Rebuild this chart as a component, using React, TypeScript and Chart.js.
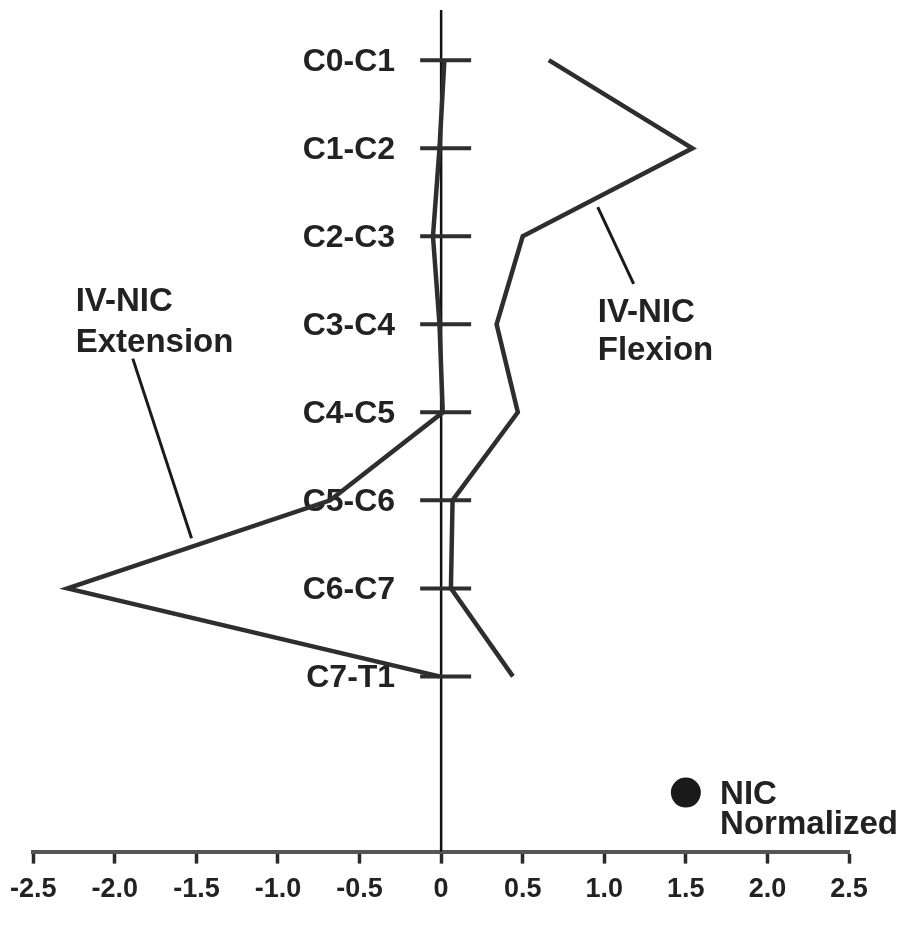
import React, { useEffect, useRef } from 'react';
import { Chart, registerables } from 'chart.js';

Chart.register(...registerables);

// ---- data ----
const categories = ['C0-C1', 'C1-C2', 'C2-C3', 'C3-C4', 'C4-C5', 'C5-C6', 'C6-C7', 'C7-T1'];
const flexionValues = [0.66, 1.54, 0.5, 0.34, 0.47, 0.07, 0.06, 0.44];
const extensionValues = [0.02, -0.01, -0.05, -0.01, 0.01, -0.68, -2.29, -0.01];
const xTickValues = [-2.5, -2.0, -1.5, -1.0, -0.5, 0, 0.5, 1.0, 1.5, 2.0, 2.5];
const xTickLabels = ['-2.5', '-2.0', '-1.5', '-1.0', '-0.5', '0', '0.5', '1.0', '1.5', '2.0', '2.5'];
const flexionLabel = ['IV-NIC', 'Flexion'];
const extensionLabel = ['IV-NIC', 'Extension'];
const legendLabel = ['NIC', 'Normalized'];

const FONT = '"Liberation Sans", Arial, Helvetica, sans-serif';
const INK = '#222222';
const LINE = '#2e2e2e';

const decorPlugin = {
  id: 'decor',
  beforeDatasetsDraw(chart: any) {
    const { ctx, chartArea, scales } = chart;
    const x = scales.x;
    const y = scales.y;
    const x0 = x.getPixelForValue(0);
    ctx.save();
    // vertical axis at 0
    ctx.strokeStyle = '#111';
    ctx.lineWidth = 2.5;
    ctx.beginPath();
    ctx.moveTo(x0, chartArea.top);
    ctx.lineTo(x0, chartArea.bottom);
    ctx.stroke();
    // category ticks and labels
    ctx.lineWidth = 4;
    ctx.strokeStyle = LINE;
    ctx.font = `bold 32px ${FONT}`;
    ctx.fillStyle = INK;
    ctx.textAlign = 'right';
    ctx.textBaseline = 'middle';
    categories.forEach((c, i) => {
      const py = y.getPixelForValue(i);
      ctx.beginPath();
      ctx.moveTo(x0 - 21, py);
      ctx.lineTo(x0 + 30, py);
      ctx.stroke();
      ctx.fillText(c, x0 - 46, py + 2);
    });
    ctx.restore();
  },
  afterDatasetsDraw(chart: any) {
    const { ctx, scales } = chart;
    const x = scales.x;
    const y = scales.y;
    const P = (vx: number, vy: number) => [x.getPixelForValue(vx), y.getPixelForValue(vy)];
    ctx.save();
    ctx.fillStyle = INK;
    ctx.font = `bold 33px ${FONT}`;
    ctx.textAlign = 'left';
    ctx.textBaseline = 'alphabetic';
    // Extension label
    let p = P(-2.24, 2.85);
    ctx.fillText(extensionLabel[0], p[0], p[1]);
    p = P(-2.24, 3.31);
    ctx.fillText(extensionLabel[1], p[0], p[1]);
    // Flexion label
    p = P(0.96, 2.97);
    ctx.fillText(flexionLabel[0], p[0], p[1]);
    p = P(0.96, 3.41);
    ctx.fillText(flexionLabel[1], p[0], p[1]);
    // leaders
    ctx.strokeStyle = '#1a1a1a';
    ctx.lineWidth = 3;
    let a = P(-1.89, 3.39);
    let b = P(-1.53, 5.43);
    ctx.beginPath();
    ctx.moveTo(a[0], a[1]);
    ctx.lineTo(b[0], b[1]);
    ctx.stroke();
    a = P(0.96, 1.67);
    b = P(1.18, 2.54);
    ctx.beginPath();
    ctx.moveTo(a[0], a[1]);
    ctx.lineTo(b[0], b[1]);
    ctx.stroke();
    // NIC normalized marker
    const d = P(1.5, 8.32);
    ctx.fillStyle = '#1a1a1a';
    ctx.beginPath();
    ctx.arc(d[0], d[1], 15, 0, Math.PI * 2);
    ctx.fill();
    ctx.fillStyle = INK;
    p = P(1.71, 8.45);
    ctx.fillText(legendLabel[0], p[0], p[1]);
    p = P(1.71, 8.79);
    ctx.fillText(legendLabel[1], p[0], p[1]);
    ctx.restore();
  },
};

export default function App() {
  const ref = useRef<HTMLCanvasElement | null>(null);
  useEffect(() => {
    if (!ref.current) return;
    const chart = new Chart(ref.current, {
      type: 'scatter',
      data: {
        datasets: [
          {
            label: 'IV-NIC Flexion',
            data: flexionValues.map((v, i) => ({ x: v, y: i })),
            showLine: true,
            borderColor: LINE,
            borderWidth: 4.5,
            pointRadius: 0,
            borderJoinStyle: 'miter',
            tension: 0,
          },
          {
            label: 'IV-NIC Extension',
            data: extensionValues.map((v, i) => ({ x: v, y: i })),
            showLine: true,
            borderColor: LINE,
            borderWidth: 4.5,
            pointRadius: 0,
            borderJoinStyle: 'miter',
            tension: 0,
          },
        ],
      },
      options: {
        animation: false,
        responsive: true,
        maintainAspectRatio: false,
        layout: { padding: { left: 33, right: 55, top: 10, bottom: 10 } },
        plugins: { legend: { display: false }, tooltip: { enabled: false } },
        scales: {
          x: {
            type: 'linear',
            min: -2.5,
            max: 2.5,
            afterBuildTicks: (scale: any) => {
              scale.ticks = xTickValues.map((v) => ({ value: v }));
            },
            grid: {
              display: true,
              drawOnChartArea: false,
              drawTicks: true,
              tickLength: 12,
              tickWidth: 3.5,
              tickColor: '#2a2a2a',
            },
            border: { display: true, color: '#555', width: 4 },
            ticks: {
              autoSkip: false,
              maxRotation: 0,
              padding: 10,
              color: INK,
              font: { family: FONT, size: 27, weight: 'bold' },
              callback: (value: any) => {
                const idx = xTickValues.findIndex((t) => Math.abs(t - Number(value)) < 1e-9);
                return idx >= 0 ? xTickLabels[idx] : '';
              },
            },
          },
          y: {
            type: 'linear',
            display: false,
            reverse: true,
            min: -0.57,
            max: 8.99,
          },
        },
      },
      plugins: [decorPlugin],
    } as any);
    return () => chart.destroy();
  }, []);
  return (
    <div style={{ position: 'fixed', left: 0, top: 0, width: 904, height: 926, background: '#fff' }}>
      <canvas ref={ref} />
    </div>
  );
}
